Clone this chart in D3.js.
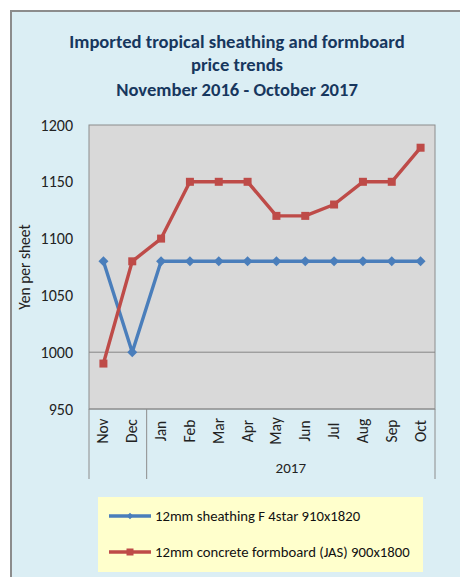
<!DOCTYPE html>
<html><head><meta charset="utf-8">
<script src="https://cdn.jsdelivr.net/npm/d3@7"></script>
<style>
html,body{margin:0;padding:0;background:#fff;}
svg{display:block;}
text{font-family:Carlito,Calibri,"Open Sans",Lato,sans-serif;}
</style></head>
<body><svg id="c" width="460" height="577"></svg>
<script>
const months = ["Nov","Dec","Jan","Feb","Mar","Apr","May","Jun","Jul","Aug","Sep","Oct"];
const sheathing = [1080,1000,1080,1080,1080,1080,1080,1080,1080,1080,1080,1080];
const formboard = [990,1080,1100,1150,1150,1150,1120,1120,1130,1150,1150,1180];
const yTicks = [950,1000,1050,1100,1150,1200];
const titleLines = ["Imported tropical sheathing and formboard","price trends","November 2016 - October 2017"];
const seriesNames = ["12mm sheathing F 4star 910x1820","12mm concrete formboard (JAS) 900x1800"];
const yearLabel = "2017";

const svg = d3.select("#c");
// outer frame
svg.append("rect").attr("x",11).attr("y",11).attr("width",460).attr("height",577)
  .attr("fill","#DBEEF4").attr("stroke","#8c8c8c").attr("stroke-width",2);

const L=89,R=435,T=125,B=409;
const x = d3.scaleBand().domain(months).range([L,R]).padding(0);
const y = d3.scaleLinear().domain([950,1200]).range([B,T]);

// title
const tt = svg.append("text").attr("text-anchor","middle").attr("fill","#17375E")
  .attr("font-weight","bold").attr("font-size",18.6);
titleLines.forEach((t,i)=>tt.append("tspan").attr("x",237).attr("y",[48,71,96][i]).text(t));

// plot area
svg.append("rect").attr("x",L).attr("y",T).attr("width",R-L).attr("height",B-T)
  .attr("fill","#D9D9D9").attr("stroke","#8c8c8c").attr("stroke-width",1);
// gridline at 1000
svg.append("line").attr("x1",L).attr("x2",R).attr("y1",y(1000)).attr("y2",y(1000))
  .attr("stroke","#868686").attr("stroke-width",1);

// y axis
const ya = svg.append("g").attr("transform",`translate(${L},0)`)
  .call(d3.axisLeft(y).tickValues(yTicks).tickSize(0).tickPadding(16).tickFormat(d3.format("d")));
ya.select(".domain").remove();
ya.selectAll("text").attr("font-size",16).attr("fill","#222").style("font-family",'Carlito,Calibri,"Open Sans",sans-serif');

svg.append("text").attr("transform",`translate(30,${y(1075)}) rotate(-90)`)
  .attr("text-anchor","middle").attr("font-size",15.5).attr("fill","#222").text("Yen per sheet");

// category axis box
const ax = svg.append("g");
[L, x("Jan"), R].forEach(xx=>ax.append("line").attr("x1",xx).attr("x2",xx).attr("y1",B).attr("y2",479)
  .attr("stroke","#8c8c8c").attr("stroke-width",1));
svg.append("line").attr("x1",L).attr("x2",R).attr("y1",B).attr("y2",B).attr("stroke","#8c8c8c");
months.forEach(m=>{
  const cx = x(m)+x.bandwidth()/2;
  ax.append("text").attr("transform",`translate(${cx+5},431) rotate(-90)`)
    .attr("text-anchor","middle").attr("font-size",15.5).attr("fill","#222").text(m);
});
ax.append("text").attr("x",(x("Jan")+R)/2).attr("y",473).attr("text-anchor","middle")
  .attr("font-size",15).attr("fill","#222").text(yearLabel);

// lines
const line = d3.line().x((d,i)=>x(months[i])+x.bandwidth()/2).y(d=>y(d));
const cols = ["#4A7EBB","#BE4B48"];
[sheathing, formboard].forEach((s,k)=>{
  svg.append("path").attr("d",line(s)).attr("fill","none").attr("stroke",cols[k])
    .attr("stroke-width",3.4).attr("stroke-linejoin","round");
});
svg.append("g").selectAll("path").data(sheathing).join("path")
  .attr("fill",cols[0])
  .attr("transform",(d,i)=>`translate(${x(months[i])+x.bandwidth()/2},${y(d)}) rotate(45)`)
  .attr("d",d3.symbol().type(d3.symbolSquare).size(50));
svg.append("g").selectAll("rect").data(formboard).join("rect")
  .attr("x",(d,i)=>x(months[i])+x.bandwidth()/2-4).attr("y",d=>y(d)-4)
  .attr("width",8).attr("height",8).attr("fill",cols[1]);

// legend
svg.append("rect").attr("x",98).attr("y",497).attr("width",325).attr("height",75).attr("fill","#FFFFCC");
[516,552].forEach((ly,k)=>{
  svg.append("line").attr("x1",109).attr("x2",151).attr("y1",ly).attr("y2",ly)
    .attr("stroke",cols[k]).attr("stroke-width",3.4);
  if(k===0){
    svg.append("path").attr("d",d3.symbol().type(d3.symbolSquare).size(22)())
      .attr("transform",`translate(130,${ly}) rotate(45)`).attr("fill",cols[0]);
  } else {
    svg.append("rect").attr("x",126.5).attr("y",ly-3.5).attr("width",7).attr("height",7).attr("fill",cols[1]);
  }
  svg.append("text").attr("x",155).attr("y",ly+5).attr("font-size",14.7).attr("fill","#111").text(seriesNames[k]);
});
</script></body></html>
